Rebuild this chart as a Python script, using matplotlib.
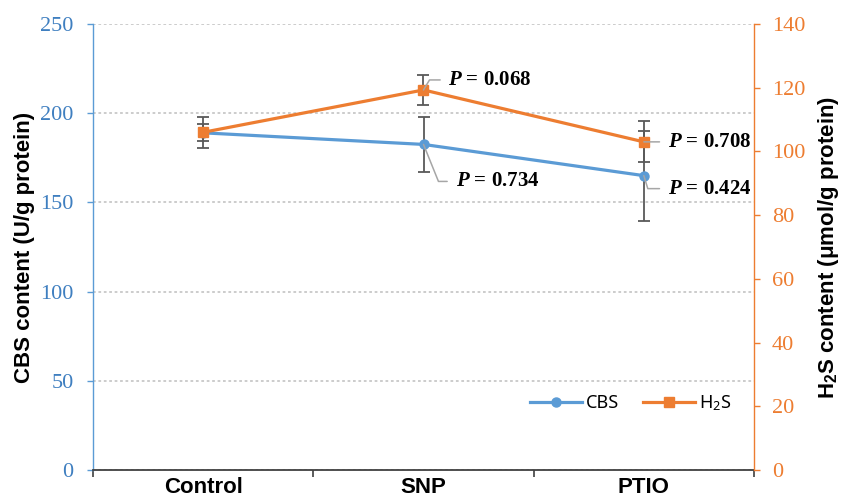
import matplotlib
matplotlib.use("Agg")
import matplotlib.pyplot as plt
import numpy as np

categories = ["Control", "SNP", "PTIO"]
cbs = [189.0, 182.5, 165.0]
cbs_err = [8.7, 15.2, 25.3]
h2s = [106.0, 119.3, 103.0]
h2s_err = [2.7, 4.6, 6.4]
cbs_p = ["", "0.734", "0.424"]
h2s_p = ["", "0.068", "0.708"]
left_ticks = [0, 50, 100, 150, 200, 250]
right_ticks = [0, 20, 40, 60, 80, 100, 120, 140]

BLUE = "#5B9BD5"
ORANGE = "#ED7D31"
TICKBLUE = "#3F7FC0"
GRAY = "#595959"
LEADER = "#A6A6A6"

plt.rcParams["mathtext.fontset"] = "custom"
plt.rcParams["mathtext.it"] = "Liberation Serif:italic:bold"
plt.rcParams["mathtext.sf"] = "Liberation Sans:bold"
plt.rcParams["mathtext.rm"] = "Noto Sans"

fig = plt.figure(figsize=(8.41, 4.99), dpi=100)
ax1 = fig.add_axes([93 / 841, 29 / 499, 661 / 841, 446 / 499])
ax2 = ax1.twinx()

x = np.arange(len(categories))

# grid
ax1.set_ylim(0, 250)
ax1.set_yticks(left_ticks)
ax1.yaxis.grid(True, color="#C8C8C8", linestyle=(0, (1.5, 1.5)), linewidth=1.3)
ax1.set_axisbelow(True)
ax2.set_ylim(0, 140)
ax2.set_yticks(right_ticks)

# CBS
ax1.errorbar(x, cbs, yerr=cbs_err, fmt="none", ecolor=GRAY, elinewidth=1.3,
             capsize=4, capthick=1.3, zorder=2)
l1, = ax1.plot(x, cbs, color=BLUE, lw=2.3, marker="o", ms=6.5, zorder=3, label="CBS")

# H2S
ax2.errorbar(x, h2s, yerr=h2s_err, fmt="none", ecolor=GRAY, elinewidth=1.3,
             capsize=4, capthick=1.3, zorder=2)
l2, = ax2.plot(x, h2s, color=ORANGE, lw=2.3, marker="s", ms=7, zorder=3,
               label=r"H$_\mathrm{2}$S")

ax1.set_xlim(-0.5, len(categories) - 0.5)

# x axis
ax1.set_xticks(np.arange(-0.5, len(categories), 1.0))
ax1.set_xticklabels([])
ax1.set_xticks(x, minor=True)
ax1.set_xticklabels(categories, minor=True, fontfamily="Liberation Sans",
                    fontweight="bold", fontsize=16)
ax1.tick_params(axis="x", which="major", length=5, width=1.2, color="#404040", direction="out")
ax1.tick_params(axis="x", which="minor", length=0, pad=5)

# spines
for ax in (ax1, ax2):
    ax.spines["top"].set_visible(False)
ax1.spines["right"].set_visible(False)
ax2.spines["left"].set_visible(False)
ax2.spines["bottom"].set_visible(False)
ax1.spines["left"].set_color(BLUE)
ax1.spines["left"].set_linewidth(1.0)
ax1.spines["bottom"].set_color("#404040")
ax1.spines["bottom"].set_linewidth(1.3)
ax2.spines["right"].set_color(ORANGE)
ax2.spines["right"].set_linewidth(1.0)

ax1.tick_params(axis="y", colors=BLUE, labelcolor=TICKBLUE, length=4, width=1, pad=10,
                labelsize=16)
ax2.tick_params(axis="y", colors=ORANGE, labelcolor=ORANGE, length=4, width=1, pad=9,
                labelsize=16)
for lab in ax1.get_yticklabels() + ax2.get_yticklabels():
    lab.set_fontfamily("Liberation Serif")

ax1.set_ylabel("CBS content (U/g protein)", fontfamily="Liberation Sans",
               fontweight="bold", fontsize=16)
ax1.yaxis.set_label_coords(-0.087, 0.5)
ax2.set_ylabel(r"H$_\mathsf{2}$S content (μmol/g protein)", fontfamily="Liberation Sans",
               fontweight="bold", fontsize=16)
ax2.yaxis.set_label_coords(1.094, 0.5)

# P-value annotations
def pann(ax, xi, yi, txt, dx, dy, angB):
    if not txt:
        return
    if angB is None:
        cs = "arc3,rad=0"
    else:
        cs = f"angle,angleA=0,angleB={angB},rad=0"
    ax.annotate(r"$\mathit{P}$ = " + txt, xy=(xi, yi), xytext=(dx, dy),
                textcoords="offset pixels", ha="left", va="center",
                fontfamily="Liberation Serif", fontweight="bold", fontsize=15,
                color="black", zorder=5,
                arrowprops=dict(arrowstyle="-", color=LEADER, lw=1.1,
                                connectionstyle=cs, shrinkA=4, shrinkB=0))

offs_h2s = [None, (25, 10, 59), (24, 0, None)]
offs_cbs = [None, (32, -37, -68), (24, -13, -73)]
for i in range(len(categories)):
    if offs_h2s[i]:
        dx, dy, a = offs_h2s[i]
        pann(ax2, x[i], h2s[i], h2s_p[i], dx, dy, a)
    if offs_cbs[i]:
        dx, dy, a = offs_cbs[i]
        pann(ax1, x[i], cbs[i], cbs_p[i], dx, dy, a)

leg = ax2.legend(handles=[l1, l2], loc="center left", bbox_to_anchor=(0.661, 0.150),
                 ncol=2, frameon=False, borderpad=0, borderaxespad=0,
                 handlelength=2.9, handletextpad=0.2, columnspacing=1.3,
                 prop={"family": "Noto Sans", "size": 13})

fig.savefig("out.png", dpi=100)
